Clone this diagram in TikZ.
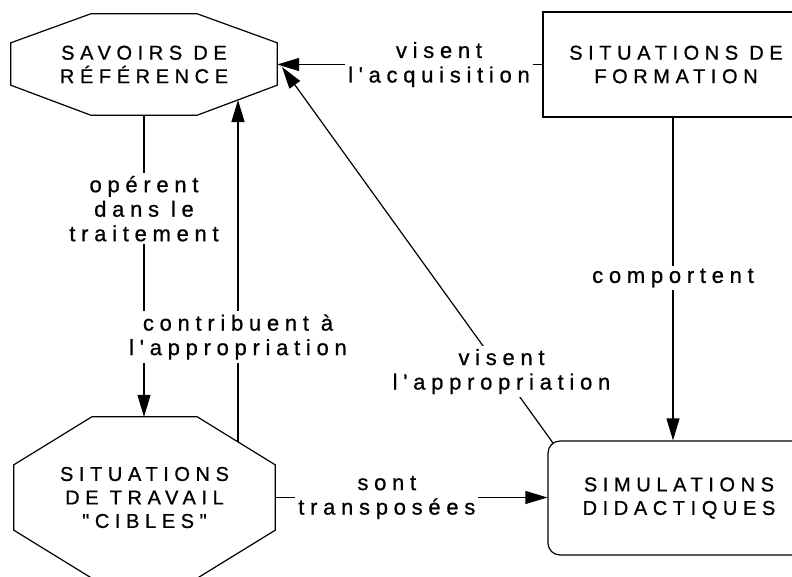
\documentclass[tikz,border=0pt]{standalone}
\usepackage{fontspec}
\usetikzlibrary{arrows.meta,calc}
\newfontfamily\dfont[LetterSpace=28,FakeBold=0.8]{Liberation Sans}
\newfontfamily\lfont[LetterSpace=26,FakeBold=0.8]{Liberation Sans}
\tikzset{
  txt/.style={font=\dfont\fontsize{20}{23.5}\selectfont, align=center},
  boxnode/.style={txt, draw, line width=1.2pt, inner sep=0pt},
  octnode/.style={txt, inner sep=0pt},
  octline/.style={line width=1.2pt, line join=miter},
  arr/.style={line width=1.2pt, -{Triangle[length=22pt,width=13pt]}},
  lbl/.style={font=\lfont\fontsize{22}{24.5}\selectfont, align=center, fill=white, inner sep=3pt}
}
\begin{document}
\begin{tikzpicture}[x=1pt,y=-1pt]
\useasboundingbox (0,0) rectangle (792,576);
\clip (0,0) rectangle (792,576);
\fill[white] (0,0) rectangle (792,576);

% nodes
\node[octnode, minimum width=266pt, minimum height=101pt] (sav) at (144,64.5) {SAVOIRS DE\\RÉFÉRENCE};
\node[octnode, minimum width=261pt, minimum height=161pt] (trav) at (144.5,497.5) {SITUATIONS\\DE TRAVAIL\\"CIBLES"};
\node[boxnode, minimum width=266pt, minimum height=105pt] (form) at (676,64.5) {SITUATIONS DE\\FORMATION};
\node[boxnode, rounded corners=12pt, minimum width=262pt, minimum height=114pt] (simul) at (679,498) {SIMULATIONS\\DIDACTIQUES};

% octagon outlines
\draw[octline] ($(sav.north west)+(80,0)$) -- ($(sav.north east)+(-80,0)$) -- ($(sav.north east)+(0,29)$) -- ($(sav.south east)+(0,-30)$) -- ($(sav.south east)+(-80,0)$) -- ($(sav.south west)+(80,0)$) -- ($(sav.south west)+(0,-30)$) -- ($(sav.north west)+(0,29)$) -- cycle;
\draw[octline] ($(trav.north west)+(78,0)$) -- ($(trav.north east)+(-78,0)$) -- ($(trav.north east)+(0,48)$) -- ($(trav.south east)+(0,-48)$) -- ($(trav.south east)+(-78,0)$) -- ($(trav.south west)+(78,0)$) -- ($(trav.south west)+(0,-48)$) -- ($(trav.north west)+(0,48)$) -- cycle;

% connector end points
\coordinate (dstart) at (238,442);
\coordinate (dend) at (238,100);
\coordinate (bstart) at (553,443);
\coordinate (bend) at (282,67);
\coordinate (fstart) at ($(form.south)+(-3,0)$);

% connectors
\draw[arr] (form.west) -- node[lbl, pos=0.39] {visent\\l'acquisition} (sav.east);
\draw[arr] (bstart) -- node[lbl, pos=0.19] {visent\\l'appropriation} (bend);
\draw[arr] (sav.south) -- node[lbl, pos=0.31] {opérent\\dans le\\traitement} (sav.south |- trav.north);
\draw[arr] (dstart) -- node[lbl, pos=0.307] {contribuent à\\l'appropriation} (dend);
\draw[arr] (trav.east) -- node[lbl, pos=0.41] {sont\\transposées} (simul.west |- trav.east);
\draw[arr] (fstart) -- node[lbl, pos=0.497] {comportent} (fstart |- simul.north);
\end{tikzpicture}
\end{document}
